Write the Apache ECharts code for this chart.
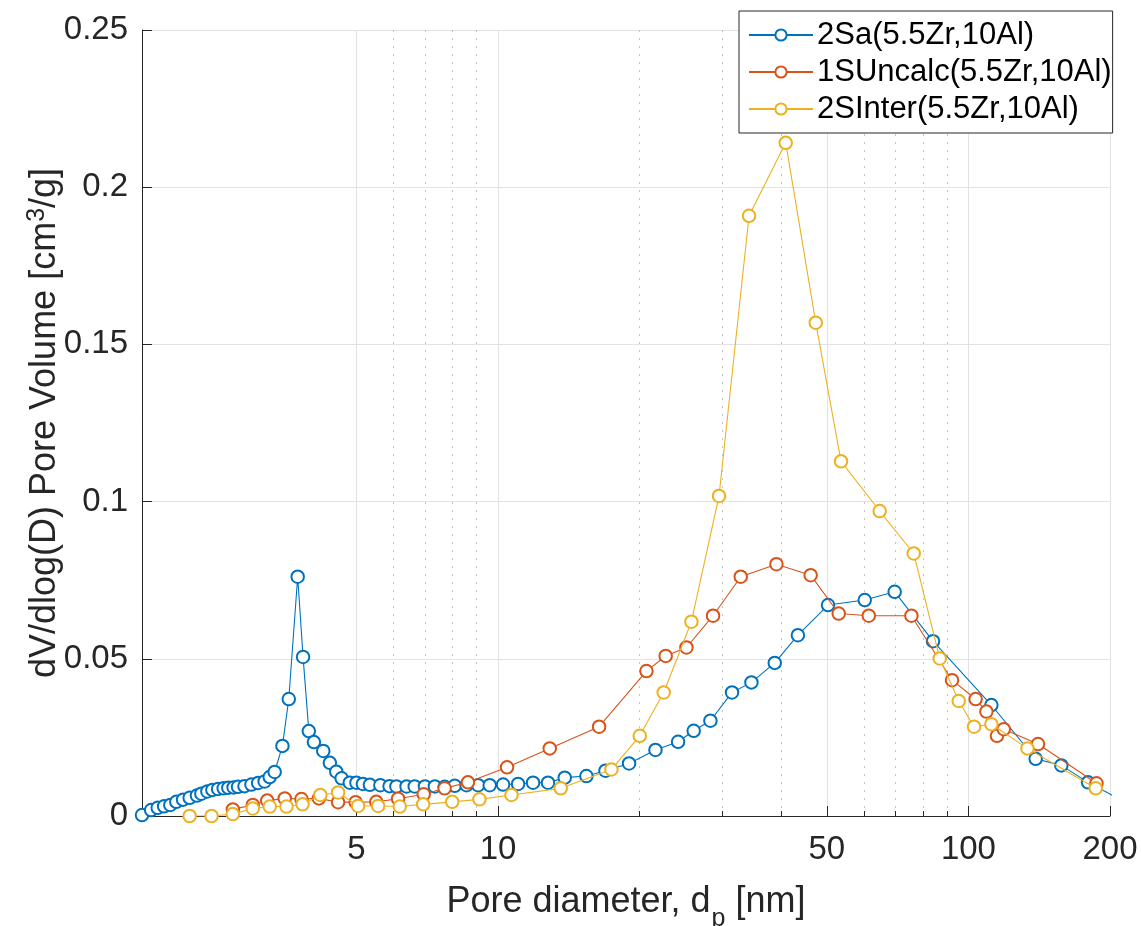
<!DOCTYPE html>
<html>
<head>
<meta charset="utf-8">
<style>
  html, body { margin: 0; padding: 0; background: #ffffff; }
  #chart { width: 1141px; height: 926px; }
</style>
<script src="https://cdn.jsdelivr.net/npm/echarts@6/dist/echarts.min.js"></script>
</head>
<body>
<div id="chart"></div>
<script>
// Pore size distributions (BJH-style dV/dlog(D)) for three samples.
const seriesNames = ['2Sa(5.5Zr,10Al)', '1SUncalc(5.5Zr,10Al)', '2SInter(5.5Zr,10Al)'];

const saDiameter = [1.75, 1.83, 1.89, 1.95, 2.01, 2.07, 2.14, 2.21, 2.29, 2.34, 2.41, 2.47, 2.54, 2.61, 2.67, 2.74, 2.80, 2.89, 2.99, 3.09,
  3.19, 3.27, 3.35, 3.48, 3.59, 3.75, 3.85, 3.96, 4.06, 4.25, 4.39, 4.53, 4.65, 4.84, 5.00, 5.16, 5.34, 5.62, 5.88, 6.08,
  6.39, 6.65, 6.99, 7.34, 7.70, 8.09, 8.57, 9.07, 9.60, 10.25, 11.03, 11.87, 12.77, 13.86, 15.41, 16.92, 18.99, 21.61, 24.14, 26.06,
  28.28, 31.44, 34.57, 38.75, 43.4, 50.3, 60.2, 69.7, 84.1, 111.9, 139, 157.6, 179.6, 215];
const saVolume = [0.0003, 0.0019, 0.0026, 0.0031, 0.0035, 0.0045, 0.0052, 0.0058, 0.0065, 0.0071, 0.0078, 0.0083, 0.0086, 0.0088, 0.0090, 0.0091, 0.0093, 0.0095, 0.0100, 0.0105,
  0.0110, 0.0124, 0.0140, 0.0223, 0.0372, 0.0761, 0.0506, 0.0270, 0.0235, 0.0207, 0.0169, 0.0141, 0.0120, 0.0106, 0.0106, 0.0102, 0.0099, 0.0098, 0.0095, 0.0094,
  0.0094, 0.0094, 0.0094, 0.0094, 0.0093, 0.0096, 0.0098, 0.0098, 0.0098, 0.0100, 0.0102, 0.0106, 0.0106, 0.0122, 0.0127, 0.0144, 0.0167, 0.0210, 0.0236, 0.0271,
  0.0303, 0.0393, 0.0425, 0.0487, 0.0575, 0.0671, 0.0687, 0.0713, 0.0556, 0.0353, 0.0182, 0.0161, 0.0107, 0.0045];

const ucDiameter = [2.73, 3.01, 3.23, 3.52, 3.82, 4.16, 4.57, 4.98, 5.51, 6.13, 6.95, 7.70, 8.63, 10.45, 12.88, 16.40, 20.68, 22.72, 25.15, 28.65,
  32.81, 39.07, 46.20, 53.0, 61.4, 75.65, 92.3, 103.6, 109.2, 115.0, 118.9, 140.6, 187.2];
const ucVolume = [0.0021, 0.0035, 0.0049, 0.0056, 0.0054, 0.0056, 0.0044, 0.0044, 0.0045, 0.0055, 0.0069, 0.0088, 0.0107, 0.0155, 0.0215, 0.0284, 0.0461, 0.0509, 0.0536, 0.0637,
  0.0761, 0.0801, 0.0766, 0.0644, 0.0637, 0.0637, 0.0432, 0.0372, 0.0332, 0.0255, 0.0276, 0.0229, 0.0104];

const inDiameter = [2.21, 2.46, 2.73, 3.01, 3.27, 3.55, 3.84, 4.19, 4.57, 5.04, 5.56, 6.18, 6.93, 7.99, 9.13, 10.68, 13.59, 17.42, 20.01, 22.50,
  25.77, 29.50, 34.17, 40.89, 47.36, 53.60, 64.77, 76.51, 86.90, 95.37, 102.8, 111.9, 133.5, 186.5];
const inVolume = [0.0000, 0.0000, 0.0006, 0.0024, 0.0030, 0.0030, 0.0037, 0.0067, 0.0075, 0.0032, 0.0032, 0.0030, 0.0037, 0.0045, 0.0053, 0.0067, 0.0088, 0.0148, 0.0255, 0.0393,
  0.0618, 0.1018, 0.1909, 0.2141, 0.1569, 0.1128, 0.0970, 0.0835, 0.0501, 0.0366, 0.0284, 0.0292, 0.0215, 0.0088];

const xMajorTicks = [5, 10, 50, 100, 200];
const xMinorTicks = [6, 7, 8, 9, 20, 30, 40, 60, 70, 80, 90];
const yTicks = [0, 0.05, 0.1, 0.15, 0.2, 0.25];

const FONT = "'Liberation Sans', Arial, Helvetica, sans-serif";
const INK = '#262626';
const colors = ['#0072BD', '#D95319', '#EDB120'];

function pairs(xs, ys) {
  return xs.map((x, i) => [x, ys[i]]);
}

const chart = echarts.init(document.getElementById('chart'), null, { renderer: 'canvas' });

const seriesData = [pairs(saDiameter, saVolume), pairs(ucDiameter, ucVolume), pairs(inDiameter, inVolume)];

chart.setOption({
  animation: false,
  backgroundColor: '#ffffff',
  color: colors,
  textStyle: { fontFamily: FONT, color: INK },
  grid: { left: 142, right: 31, top: 30, bottom: 110, containLabel: false, outerBoundsMode: 'none' },
  legend: {
    orient: 'vertical',
    left: 739,
    top: 11,
    padding: [8, 1, 8, 9],
    itemGap: 5,
    itemWidth: 64,
    itemHeight: 14,
    backgroundColor: '#ffffff',
    borderColor: INK,
    borderWidth: 1,
    borderRadius: 0,
    selectedMode: false,
    textStyle: { fontSize: 31, fontFamily: FONT, color: '#000000', lineHeight: 32, padding: [0, 0, 0, -1] },
    data: seriesNames
  },
  xAxis: [
    {
      type: 'log',
      logBase: 10,
      min: 1.75,
      max: 200,
      position: 'bottom',
      name: '{t|Pore diameter, d}{s|p}{t| [nm]}',
      nameLocation: 'middle',
      nameGap: 64,
      nameMoveOverlap: false,
      nameTextStyle: {
        rich: {
          t: { fontSize: 36, fontFamily: FONT, color: INK, lineHeight: 44 },
          s: { fontSize: 25, fontFamily: FONT, color: INK, lineHeight: 25, verticalAlign: 'top', padding: [27, 0, 0, 1] }
        }
      },
      axisLine: { show: true, onZero: false, lineStyle: { color: INK, width: 1 } },
      axisTick: { show: true, inside: true, length: 10, customValues: xMajorTicks, lineStyle: { color: INK, width: 1 } },
      axisLabel: {
        customValues: xMajorTicks,
        fontSize: 33,
        fontFamily: FONT,
        color: INK,
        margin: 17,
        formatter: v => String(Math.round(v))
      },
      splitLine: { show: true, lineStyle: { color: '#e2e2e2', width: 1 } },
      minorTick: { show: false },
      minorSplitLine: { show: false }
    },
    {
      type: 'log',
      logBase: 10,
      min: 1.75,
      max: 200,
      position: 'bottom',
      axisLine: { show: false },
      axisTick: { show: true, inside: true, length: 5, customValues: xMinorTicks, lineStyle: { color: INK, width: 1 } },
      axisLabel: { show: false, customValues: xMinorTicks },
      splitLine: { show: true, lineStyle: { color: '#c4c4c4', width: 1, type: [2, 6] } }
    }
  ],
  yAxis: {
    type: 'value',
    min: 0,
    max: 0.25,
    interval: 0.05,
    name: '{t|dV/dlog(D) Pore Volume [cm}{s|3}{t|/g]}',
    nameLocation: 'middle',
    nameGap: 77,
    nameMoveOverlap: false,
    nameRotate: 90,
    nameTextStyle: {
      rich: {
        t: { fontSize: 36, fontFamily: FONT, color: INK, lineHeight: 40 },
        s: { fontSize: 25, fontFamily: FONT, color: INK, lineHeight: 25, verticalAlign: 'top' }
      }
    },
    axisLine: { show: true, onZero: false, lineStyle: { color: INK, width: 1 } },
    axisTick: { show: true, inside: true, length: 10, lineStyle: { color: INK, width: 1 } },
    axisLabel: {
      fontSize: 33,
      fontFamily: FONT,
      color: INK,
      margin: 14,
      formatter: v => {
        const hit = yTicks.find(t => Math.abs(t - v) < 1e-9);
        return hit === undefined ? '' : String(hit);
      }
    },
    splitLine: { show: true, lineStyle: { color: '#e2e2e2', width: 1 } }
  },
  series: seriesNames.map((name, i) => ({
    name,
    type: 'line',
    xAxisIndex: 0,
    yAxisIndex: 0,
    data: seriesData[i],
    clip: true,
    symbol: 'emptyCircle',
    symbolSize: 12.5,
    showAllSymbol: true,
    lineStyle: { color: colors[i], width: 1.1 },
    itemStyle: { color: colors[i], borderColor: colors[i], borderWidth: 1.7 },
    emphasis: { disabled: true },
    z: 2 + i
  }))
});
</script>
</body>
</html>
